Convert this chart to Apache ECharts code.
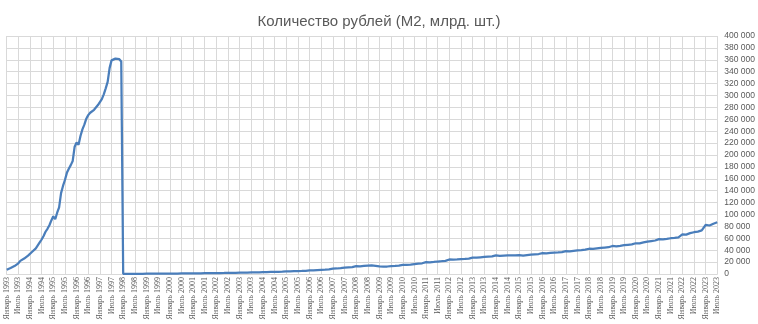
<!DOCTYPE html>
<html>
<head>
<meta charset="utf-8">
<script src="https://cdn.jsdelivr.net/npm/echarts@6/dist/echarts.min.js"></script>
<style>
html,body{margin:0;padding:0;background:#fff;}
#c{width:758px;height:324px;}
</style>
</head>
<body>
<div id="c"></div>
<script>
// Month names and covered years
const monthNames = ['Январь','Февраль','Март','Апрель','Май','Июнь','Июль','Август','Сентябрь','Октябрь','Ноябрь','Декабрь'];
const firstYear = 1993;
const lastYear = 2023;
const lastMonthIndex = 6; // Июль 2023

// M2, млрд. руб. (до 1998 — старые рубли)
const m2_1993_1997 = [
  7000, 8500, 10000, 11500, 13300, 15000, 18000, 22000, 24000, 26000, 28000, 31000,
  34000, 37000, 39000, 43000, 48000, 53000, 58000, 64000, 71000, 76000, 82000, 90000,
  97000, 92000, 103000, 112000, 136000, 148000, 158000, 170000, 177000, 183000, 190000, 214000,
  221000, 217000, 232000, 243000, 251000, 261000, 267000, 271000, 273000, 276000, 279000, 284000,
  287000, 294000, 302000, 312000, 323000, 346000, 359000, 361000, 362000, 365000, 361000, 357000
];
const m2_1998_2007 = [
  374, 370, 369, 372, 376, 380, 378, 372, 392, 405, 415, 430,
  448, 440, 458, 470, 492, 515, 535, 555, 570, 590, 615, 645,
  714, 705, 740, 790, 820, 860, 900, 940, 970, 1000, 1030, 1060,
  1154, 1130, 1160, 1200, 1240, 1290, 1340, 1370, 1400, 1430, 1460, 1500,
  1612, 1580, 1620, 1680, 1720, 1780, 1830, 1870, 1910, 1950, 1990, 2030,
  2134, 2110, 2190, 2280, 2380, 2480, 2580, 2620, 2680, 2740, 2820, 2900,
  3212, 3180, 3280, 3380, 3460, 3500, 3570, 3650, 3720, 3800, 3900, 3980,
  4363, 4300, 4420, 4560, 4680, 4800, 4950, 5060, 5180, 5300, 5420, 5560,
  6045, 6000, 6180, 6400, 6580, 6760, 6990, 7180, 7380, 7560, 7780, 8000,
  8995, 8950, 9250, 9600, 9950, 10400, 10700, 11000, 11200, 11350, 11650, 11900
];
const m2_2008_2015 = [
  13272, 12900, 13000, 13300, 13600, 13900, 14200, 14300, 14450, 14300, 13800, 13400,
  12976, 12300, 12200, 12300, 12600, 12800, 13100, 13300, 13500, 13800, 14000, 14300,
  15268, 14900, 15200, 15500, 15900, 16300, 16700, 17000, 17400, 17700, 18000, 18400,
  20012, 19500, 19700, 20000, 20300, 20600, 21000, 21300, 21500, 21800, 22100, 22500,
  24483, 24000, 24100, 24300, 24500, 24700, 25000, 25200, 25300, 25600, 25800, 26000,
  27405, 27100, 27400, 27700, 28000, 28300, 28600, 28800, 29100, 29300, 29600, 29900,
  31405, 30500, 30400, 30600, 30900, 31000, 31100, 31000, 31200, 31000, 31100, 31000,
  31616, 30400, 30800, 31300, 31600, 32000, 32400, 32700, 33000, 33300, 33600, 33900
];
const m2_2016_2023 = [
  35180, 34600, 34800, 35100, 35400, 35700, 36000, 36200, 36400, 36700, 36900, 37200,
  38418, 37900, 38100, 38500, 38900, 39300, 39600, 39900, 40200, 40500, 40900, 41200,
  42442, 41800, 42100, 42500, 43000, 43400, 43800, 44100, 44400, 44700, 45000, 45400,
  47109, 46300, 46500, 46900, 47400, 47900, 48400, 48700, 49100, 49400, 49700, 50200,
  51660, 51000, 51400, 52300, 53000, 53800, 54500, 55100, 55400, 55800, 56300, 56900,
  58651, 58000, 58200, 58600, 59100, 59600, 60100, 60400, 60800, 61200, 61700, 62300,
  66466, 65400, 66200, 68900, 68700, 69300, 70200, 70600, 71300, 72300, 73400, 74900,
  82380, 80800, 81500, 83000, 84500, 85600, 87000
];

// Y-axis range
const yMin = 0, yMax = 400000, yStep = 20000;

const categories = [];
for (let y = firstYear; y <= lastYear; y++) {
  for (let m = 0; m < 12; m++) {
    if (y === lastYear && m > lastMonthIndex) break;
    categories.push(monthNames[m] + ' ' + y);
  }
}
const values = [].concat(m2_1993_1997, m2_1998_2007, m2_2008_2015, m2_2016_2023);

const halfYear = (i) => i % 6 === 0;
const fmt = (v) => String(v).replace(/\B(?=(\d{3})+(?!\d))/g, ' ');

const chart = echarts.init(document.getElementById('c'), null, {renderer: 'canvas'});
chart.setOption({
  animation: false,
  backgroundColor: '#ffffff',
  title: {
    text: 'Количество рублей (M2, млрд. шт.)',
    left: 'center',
    top: 9,
    textStyle: {fontFamily: 'Liberation Sans', fontSize: 15, fontWeight: 'normal', color: '#595959'}
  },
  grid: {left: 6.7, right: 40, top: 36, bottom: 50, containLabel: false},
  xAxis: {
    type: 'category',
    data: categories,
    boundaryGap: false,
    axisLine: {show: true, lineStyle: {color: '#d9d9d9', width: 1}},
    axisTick: {show: false},
    axisLabel: {
      interval: halfYear,
      rotate: 90,
      margin: 3,
      fontFamily: 'Liberation Sans Narrow',
      fontSize: 8,
      color: '#595959'
    },
    splitLine: {show: true, interval: halfYear, lineStyle: {color: '#d9d9d9', width: 1}}
  },
  yAxis: {
    type: 'value',
    position: 'right',
    min: yMin,
    max: yMax,
    interval: yStep,
    axisLine: {show: false},
    axisTick: {show: false},
    axisLabel: {
      margin: 7,
      fontFamily: 'Liberation Sans',
      fontSize: 8.5,
      color: '#595959',
      formatter: fmt
    },
    splitLine: {show: true, lineStyle: {color: '#d9d9d9', width: 1}}
  },
  series: [{
    type: 'line',
    data: values,
    showSymbol: false,
    symbol: 'none',
    lineStyle: {color: '#4A7EBB', width: 2.25},
    z: 5
  }]
});
</script>
</body>
</html>
